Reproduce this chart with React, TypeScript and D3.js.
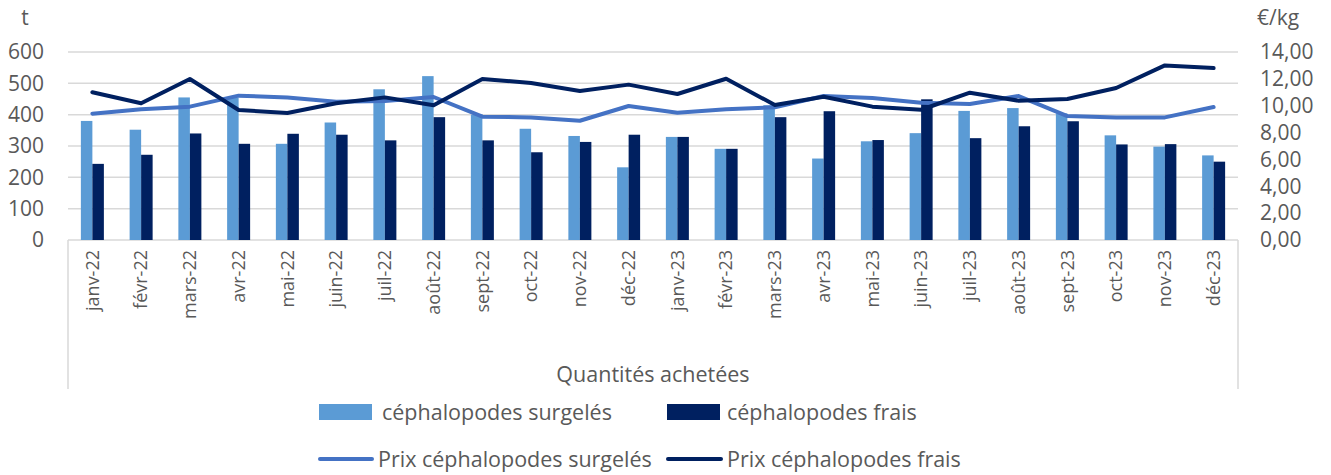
import React from "react";
import * as d3 from "d3";

const months = [
  "janv-22", "févr-22", "mars-22", "avr-22", "mai-22", "juin-22",
  "juil-22", "août-22", "sept-22", "oct-22", "nov-22", "déc-22",
  "janv-23", "févr-23", "mars-23", "avr-23", "mai-23", "juin-23",
  "juil-23", "août-23", "sept-23", "oct-23", "nov-23", "déc-23",
];

// tonnes
const qtySurgeles = [380, 352, 455, 455, 307, 375, 481, 523, 400, 355, 332, 232,
  329, 291, 430, 260, 315, 341, 412, 421, 404, 334, 298, 270];
const qtyFrais = [243, 272, 340, 307, 339, 336, 318, 392, 318, 280, 313, 336,
  329, 291, 392, 411, 319, 449, 325, 363, 379, 305, 306, 250];

// €/kg
const prixSurgeles = [9.41, 9.73, 9.93, 10.75, 10.62, 10.3, 10.35, 10.65, 9.18, 9.13, 8.88, 9.98,
  9.48, 9.73, 9.88, 10.72, 10.57, 10.22, 10.13, 10.72, 9.23, 9.13, 9.13, 9.9];
const prixFrais = [11.0, 10.18, 11.99, 9.68, 9.46, 10.18, 10.62, 10.03, 11.99, 11.69, 11.1, 11.57,
  10.87, 12.01, 10.05, 10.67, 9.93, 9.7, 10.97, 10.37, 10.5, 11.32, 13.0, 12.8];

const leftTicks = [0, 100, 200, 300, 400, 500, 600];
const rightTicks = [0, 2, 4, 6, 8, 10, 12, 14];

const W = 1331;
const H = 475;
const plot = { left: 68, right: 1238, top: 52, bottom: 240 };
const FONT = "'Open Sans', sans-serif";
const TXT = "#595959";
const C_LIGHT = "#5b9bd5";
const C_NAVY = "#002060";
const C_LINE = "#4472c4";

export default function App() {
  const x = d3.scaleBand<string>().domain(months).range([plot.left, plot.right]);
  const inner = d3.scaleBand<string>().domain(["s", "f"]).range([0, 23]);
  const yL = d3.scaleLinear().domain([0, 600]).range([plot.bottom, plot.top]);
  const yR = d3.scaleLinear().domain([0, 14]).range([plot.bottom, plot.top]);
  const cx = (m: string) => (x(m) ?? 0) + x.bandwidth() / 2;
  const groupStart = (m: string) => cx(m) - 11.5;

  const line = d3
    .line<number>()
    .x((_, i) => cx(months[i]))
    .y((d) => yR(d));

  const fmt = (v: number) => v.toFixed(2).replace(".", ",");

  return (
    <div style={{ position: "absolute", left: 0, top: 0 }}>
      <svg width={W} height={H} style={{ display: "block", background: "#fff" }} fontFamily={FONT}>
        {/* gridlines */}
        {leftTicks.map((t) => (
          <line key={t} x1={plot.left} x2={plot.right} y1={yL(t)} y2={yL(t)}
            stroke="#d9d9d9" strokeWidth={1.5} />
        ))}
        {/* category box */}
        <line x1={plot.left} x2={plot.left} y1={plot.bottom} y2={389} stroke="#d9d9d9" strokeWidth={1.5} />
        <line x1={plot.right} x2={plot.right} y1={plot.bottom} y2={389} stroke="#d9d9d9" strokeWidth={1.5} />

        {/* bars */}
        {months.map((m, i) => (
          <g key={m}>
            <rect x={groupStart(m) + (inner("s") ?? 0)} width={inner.bandwidth()}
              y={yL(qtySurgeles[i])} height={yL(0) - yL(qtySurgeles[i])} fill={C_LIGHT} />
            <rect x={groupStart(m) + (inner("f") ?? 0)} width={inner.bandwidth()}
              y={yL(qtyFrais[i])} height={yL(0) - yL(qtyFrais[i])} fill={C_NAVY} />
          </g>
        ))}

        {/* lines */}
        <path d={line(prixSurgeles) ?? ""} fill="none" stroke={C_LINE} strokeWidth={4}
          strokeLinejoin="round" strokeLinecap="round" />
        <path d={line(prixFrais) ?? ""} fill="none" stroke={C_NAVY} strokeWidth={4}
          strokeLinejoin="round" strokeLinecap="round" />

        {/* left axis */}
        {leftTicks.map((t) => (
          <text key={t} x={44} y={yL(t)} dy="0.35em" textAnchor="end" fontSize={21} fill={TXT}>{t}</text>
        ))}
        <text x={25} y={18} dy="0.35em" textAnchor="middle" fontSize={21} fill={TXT}>t</text>

        {/* right axis */}
        {rightTicks.map((t) => (
          <text key={t} x={1260} y={yR(t)} dy="0.35em" textAnchor="start" fontSize={21} fill={TXT}>{fmt(t)}</text>
        ))}
        <text x={1257} y={18} dy="0.35em" textAnchor="start" fontSize={21} fill={TXT}>€/kg</text>

        {/* month labels */}
        {months.map((m) => (
          <text key={m} transform={`translate(${cx(m)},250) rotate(-90)`} dy="0.35em"
            textAnchor="end" fontSize={18} fill={TXT}>{m}</text>
        ))}
        <text x={(plot.left + plot.right) / 2} y={374} dy="0.35em" textAnchor="middle" fontSize={21.5} fill={TXT}>
          Quantités achetées
        </text>

        {/* legend */}
        <rect x={319} y={404} width={53} height={16} fill={C_LIGHT} />
        <text x={382} y={412} dy="0.35em" fontSize={21.5} fill={TXT}>céphalopodes surgelés</text>
        <rect x={667} y={404} width={53} height={16} fill={C_NAVY} />
        <text x={727} y={412} dy="0.35em" fontSize={21.5} fill={TXT}>céphalopodes frais</text>

        <line x1={320} x2={372} y1={459} y2={459} stroke={C_LINE} strokeWidth={4} strokeLinecap="round" />
        <text x={378} y={459} dy="0.35em" fontSize={21.5} fill={TXT}>Prix céphalopodes surgelés</text>
        <line x1={668} x2={721} y1={459} y2={459} stroke={C_NAVY} strokeWidth={4} strokeLinecap="round" />
        <text x={727} y={459} dy="0.35em" fontSize={21.5} fill={TXT}>Prix céphalopodes frais</text>
      </svg>
    </div>
  );
}
